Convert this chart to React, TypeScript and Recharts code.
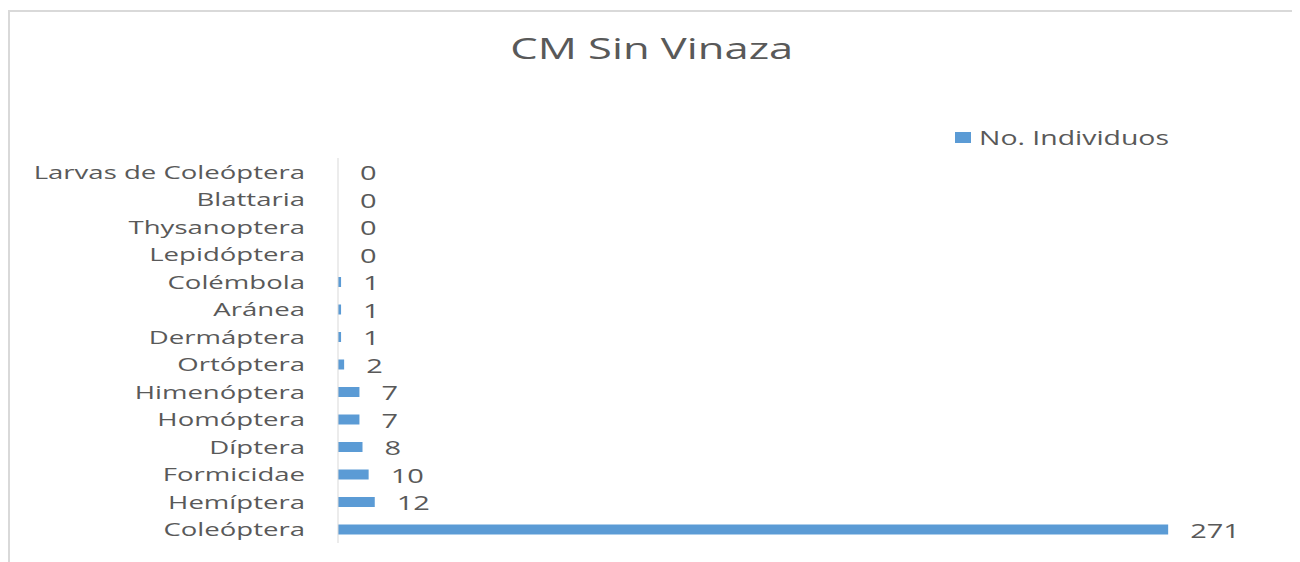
import { BarChart, Bar, XAxis, YAxis, Legend, LabelList } from 'recharts';

const categories = [
  'Larvas de Coleóptera',
  'Blattaria',
  'Thysanoptera',
  'Lepidóptera',
  'Colémbola',
  'Aránea',
  'Dermáptera',
  'Ortóptera',
  'Himenóptera',
  'Homóptera',
  'Díptera',
  'Formicidae',
  'Hemíptera',
  'Coleóptera',
];

const individuos = [0, 0, 0, 0, 1, 1, 1, 2, 7, 7, 8, 10, 12, 271];

const data = categories.map((name, i) => ({ name, individuos: individuos[i] }));

const FONT = '"Open Sans", sans-serif';
const TEXT = '#595959';
// the reference looks stretched sideways, so text is widened to match
const STRETCH = 1.45;

function CategoryTick({ x, y, payload }: any) {
  return (
    <text
      transform={`translate(${x},${y}) scale(${STRETCH},1)`}
      textAnchor="end"
      dominantBaseline="central"
      fill={TEXT}
      fontSize={19}
      fontFamily={FONT}
    >
      {payload.value}
    </text>
  );
}

function ValueLabel({ x, y, width, height, value }: any) {
  const tx = Number(x) + Number(width) + 22;
  const ty = Number(y) + Number(height) / 2;
  return (
    <text
      transform={`translate(${tx},${ty}) scale(${STRETCH},1)`}
      textAnchor="start"
      dominantBaseline="central"
      fill={TEXT}
      fontSize={20}
      fontFamily={FONT}
    >
      {value}
    </text>
  );
}

function LegendBox() {
  return (
    <div style={{ display: 'flex', alignItems: 'center', fontFamily: FONT, fontSize: 20, color: TEXT }}>
      <span style={{ display: 'inline-block', width: 16, height: 11, background: '#5b9bd5', marginRight: 8 }} />
      <span style={{ display: 'inline-block', transform: `scaleX(1.42)`, transformOrigin: 'left center' }}>
        No. Individuos
      </span>
    </div>
  );
}

export default function App() {
  return (
    <div
      style={{
        position: 'relative',
        width: 1283,
        height: 570,
        marginTop: 2,
        border: '2px solid #d9d9d9',
        background: '#fff',
      }}
    >
      <div
        style={{
          position: 'absolute',
          top: 15,
          left: 0,
          width: '100%',
          textAlign: 'center',
          fontFamily: FONT,
          fontSize: 30,
          color: TEXT,
          transform: `scaleX(${STRETCH})`,
          transformOrigin: '641px center',
        }}
      >
        CM Sin Vinaza
      </div>
      <BarChart
        width={1283}
        height={570}
        data={data}
        layout="vertical"
        margin={{ top: 119, right: 36, bottom: 39, left: 0 }}
      >
        <XAxis type="number" domain={[0, 300]} hide />
        <YAxis
          type="category"
          dataKey="name"
          width={328}
          axisLine={{ stroke: '#d9d9d9' }}
          tickLine={false}
          tickSize={0}
          tickMargin={33}
          interval={0}
          tick={<CategoryTick />}
        />
        <Legend
          verticalAlign="top"
          content={() => <LegendBox />}
          wrapperStyle={{ position: 'absolute', top: 112, left: 945, width: 'auto' }}
        />
        <Bar dataKey="individuos" fill="#5b9bd5" barSize={10} minPointSize={0.01} isAnimationActive={false}>
          <LabelList dataKey="individuos" content={<ValueLabel />} />
        </Bar>
      </BarChart>
    </div>
  );
}
